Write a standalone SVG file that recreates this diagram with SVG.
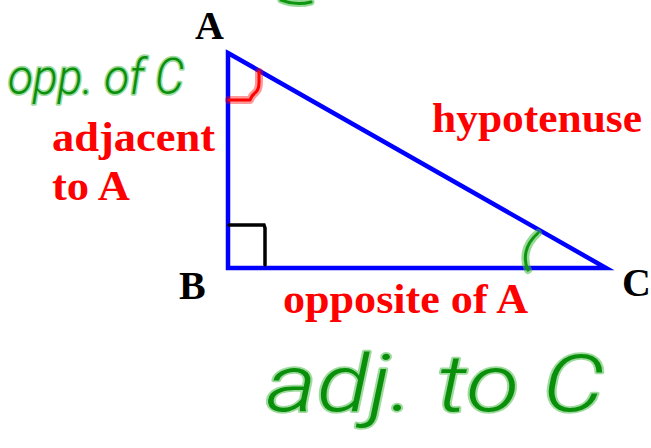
<svg xmlns="http://www.w3.org/2000/svg" width="651" height="448" viewBox="0 0 651 448">
<style>
.lbl{font-family:"Liberation Serif","Times New Roman",serif;font-weight:bold;font-size:40px;fill:#000}
.red{fill:#ff0000;font-size:43px}
.halo{fill:none;stroke:#3fb83f;stroke-opacity:0.55;stroke-linecap:round;stroke-linejoin:round}
.ink{fill:none;stroke:#0e960e;stroke-linecap:round;stroke-linejoin:round}
.hand{font-family:Roboto,"Liberation Sans",sans-serif;font-style:italic;font-weight:300}
.handHalo{fill:#0a8f0a;stroke:#3fb83f;stroke-opacity:0.5;stroke-width:3.5;stroke-linejoin:round;paint-order:stroke}
</style>
<rect width="651" height="448" fill="#fff"/>
<g id="triangle">
<polygon points="228,53 606,268 228,268" fill="none" stroke="#0000ff" stroke-width="4.5" stroke-linejoin="miter"/>
</g>
<g id="right-angle-B">
<polyline points="229,225 264,225 265,228 265,265" fill="none" stroke="#000" stroke-width="3.5" stroke-linecap="round"/>
</g>
<g id="angle-A">
<path d="M229,100 L250,100 Q252,95 256,92 Q259,89 259,82 L259,72" fill="none" stroke="#ff0000" stroke-opacity="0.4" stroke-width="8" stroke-linecap="round" stroke-linejoin="round"/>
<path d="M229,100 L250,100 Q252,95 256,92 Q259,89 259,82 L259,72" fill="none" stroke="#ff0000" stroke-width="3" stroke-linecap="round" stroke-linejoin="round"/>
</g>
<g id="angle-C">
<path d="M528,270 Q524,262 526,252 Q528,242 538,233" class="halo" stroke-width="8"/>
<path d="M528,270 Q524,262 526,252 Q528,242 538,233" class="ink" stroke-width="3"/>
</g>
<g id="vertex-A"><text class="lbl" x="195" y="39">A</text></g>
<g id="vertex-B"><text class="lbl" x="179" y="299">B</text></g>
<g id="vertex-C"><text class="lbl" x="622" y="296">C</text></g>
<g id="label-hypotenuse"><text class="lbl red" x="432" y="132" textLength="210" lengthAdjust="spacingAndGlyphs">hypotenuse</text></g>
<g id="label-adjacent">
<text class="lbl red" x="52" y="151" textLength="163" lengthAdjust="spacingAndGlyphs">adjacent</text>
<text class="lbl red" x="52" y="200" textLength="78" lengthAdjust="spacingAndGlyphs">to A</text>
</g>
<g id="label-opposite"><text class="lbl red" x="283" y="313" textLength="245" lengthAdjust="spacingAndGlyphs">opposite of A</text></g>
<g id="note-opp">
<text class="hand handHalo" x="8" y="94" font-size="50" textLength="176" lengthAdjust="spacingAndGlyphs">opp. of C</text>
</g>
<g id="note-adj">
<text class="hand handHalo" x="266" y="411" font-size="80" textLength="338" lengthAdjust="spacingAndGlyphs">adj. to C</text>
</g>
<g id="ink-top">
<path d="M281,0 Q296,6 311,2" class="halo" stroke-width="7"/>
<path d="M281,0 Q296,6 311,2" class="ink" stroke-width="3"/>
</g>
</svg>
